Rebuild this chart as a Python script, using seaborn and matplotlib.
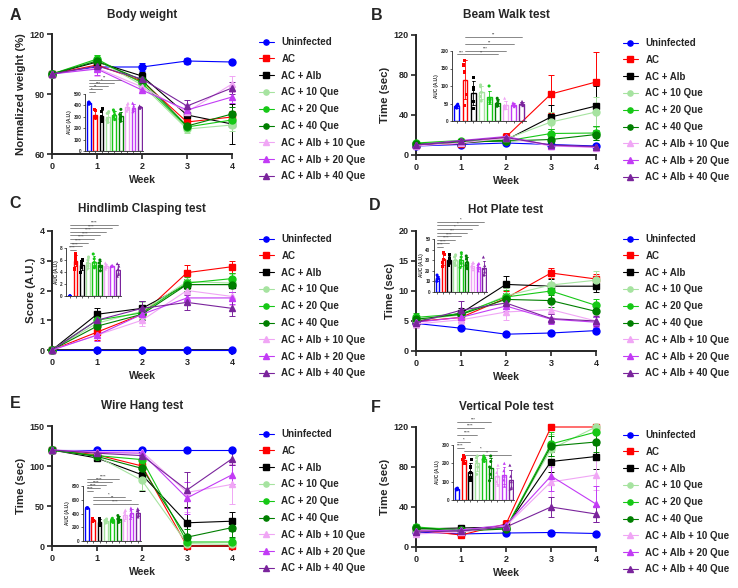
import numpy as np
import pandas as pd
import matplotlib
matplotlib.use('Agg')
import matplotlib.pyplot as plt
import seaborn as sns

groups = ['Uninfected', 'AC', 'AC + Alb', 'AC + 10 Que', 'AC + 20 Que', 'AC + 40 Que',
          'AC + Alb + 10 Que', 'AC + Alb + 20 Que', 'AC + Alb + 40 Que']
colors = ['#0000FF', '#FF0000', '#000000', '#A6E3A0', '#16C816', '#007F00',
          '#F0A6F5', '#C23BF5', '#7A249C']
markers = ['o', 's', 's', 'o', 'o', 'o', '^', '^', '^']
weeks = [0, 1, 2, 3, 4]

# ---- A: body weight (%)
bw_mean = [[100, 103.5, 103.5, 106.5, 106], [100, 104.5, 96.5, 76, 78.5],
           [100, 106, 99, 79.5, 75], [100, 107, 94.5, 72.5, 74.5],
           [100, 107.5, 95.5, 73.5, 77], [100, 106.5, 97, 74, 80],
           [100, 103, 93.5, 81, 95], [100, 102.5, 92, 82, 88.5],
           [100, 104, 97.5, 84, 93]]
bw_sem = [[0.5, 1.5, 2, 1.5, 1.2], [0.5, 2, 2, 2.5, 3], [0.5, 2, 2, 3, 10],
          [0.5, 2.5, 2, 2, 3], [0.5, 2, 2, 2, 3], [0.5, 2, 2, 2, 3.5],
          [0.5, 4, 2, 3, 4], [0.5, 3, 1.5, 2.5, 3], [0.5, 2, 2, 3, 3]]
bw_auc = [[430, 415, 425, 410, 420], [365, 355, 300, 290, 290], [370, 345, 300, 280, 255],
          [345, 330, 280, 270, 250], [360, 345, 320, 300, 275], [365, 320, 300, 280, 260],
          [420, 405, 380, 370, 350], [420, 395, 375, 365, 345], [395, 390, 385, 380, 375]]
bw_sig = [(0, 5, '**', 623), (0, 4, '*', 597), (0, 3, '***', 570), (0, 2, '**', 544), (0, 1, '*', 518)]

# ---- B: beam walk (sec)
bm_mean = [[9, 10.5, 12, 10.5, 9], [10, 11.5, 18, 61, 73], [10, 12, 15, 38, 49],
           [11, 13, 16, 33, 43], [12, 14.5, 14, 21.5, 22], [11, 13, 14, 15.5, 20.5],
           [9, 12, 17, 9, 7.5], [10, 14.5, 18.5, 9.5, 8], [10, 14, 17.5, 10, 8.5]]
bm_sem = [[1, 1, 1, 1, 1], [2, 2, 4, 19, 30], [2, 2, 2, 12, 20], [2, 2, 2, 10, 15],
          [2, 2, 2, 5, 7], [2, 2, 2, 3, 5], [1, 2, 3, 2, 2], [1, 2, 2, 2, 2], [1, 2, 2, 2, 2]]
bm_auc = [[48, 45, 42, 38, 37], [172, 160, 140, 75, 43], [125, 95, 90, 55, 35],
          [103, 98, 82, 70, 57], [100, 65, 62, 60, 53], [65, 58, 50, 45, 42],
          [65, 45, 42, 38, 35], [52, 50, 47, 45, 41], [56, 52, 50, 48, 44]]
bm_sig = [(1, 8, '**', 241), (1, 7, '**', 219), (1, 6, '***', 200), (0, 1, '***', 191), (1, 5, '**', 191)]

# ---- C: hindlimb clasping (score)
hc_mean = [[0, 0, 0, 0, 0], [0, 0.6, 1.2, 2.6, 2.8], [0, 1.2, 1.4, 2.2, 2.2],
           [0, 0.9, 1.3, 2.3, 2.25], [0, 1.0, 1.25, 2.25, 2.4], [0, 0.8, 1.2, 2.2, 2.2],
           [0, 0.5, 1.0, 2.0, 1.8], [0, 0.5, 1.2, 1.75, 1.75], [0, 1.0, 1.4, 1.6, 1.4]]
hc_sem = [[0, 0, 0, 0, 0], [0, 0.25, 0.2, 0.25, 0.2], [0, 0.2, 0.25, 0.2, 0.25],
          [0, 0.2, 0.3, 0.25, 0.3], [0, 0.2, 0.2, 0.2, 0.2], [0, 0.2, 0.2, 0.2, 0.25],
          [0, 0.2, 0.2, 0.3, 0.3], [0, 0.2, 0.2, 0.2, 0.2], [0, 0.2, 0.25, 0.25, 0.25]]
hc_auc = [[0, 0, 0, 0, 0], [7.0, 6.5, 6.0, 5.5, 4.5], [6.0, 5.8, 5.5, 4.8, 3.9],
          [6.5, 6.0, 5.5, 5.0, 4.5], [7.0, 6.2, 5.6, 5.0, 4.7], [6.0, 5.5, 5.0, 4.8, 4.2],
          [5.5, 5.2, 5.0, 4.8, 4.5], [5.1, 5.0, 5.0, 5.0, 4.9], [5.4, 5.0, 4.5, 3.8, 3.3]]
hc_sig = [(0, 1, '****', 7.7), (0, 2, '****', 8.3), (0, 3, '****', 8.9), (0, 4, '****', 9.5),
          (0, 5, '****', 10.1), (0, 6, '****', 10.7), (0, 7, '****', 11.3), (0, 8, '****', 11.9)]

# ---- D: hot plate (sec)
hp_mean = [[4.6, 3.8, 2.8, 3.0, 3.4], [4.9, 5.6, 8.8, 13.0, 12.0], [5.0, 6.3, 11.1, 10.8, 10.8],
           [5.2, 6.0, 9.2, 11.0, 11.8], [5.6, 6.2, 9.0, 10.0, 7.6], [5.3, 6.1, 8.6, 8.4, 6.6],
           [4.5, 5.2, 6.5, 6.9, 5.0], [4.8, 5.6, 7.5, 5.3, 4.8], [4.7, 6.8, 8.0, 5.4, 5.0]]
hp_sem = [[0.4, 0.3, 0.3, 0.3, 0.4], [0.6, 0.7, 1.2, 0.9, 0.8], [0.6, 0.8, 1.4, 1.2, 1.0],
          [0.7, 0.8, 1.3, 1.5, 1.5], [0.8, 0.7, 1.2, 1.2, 1.0], [0.7, 0.7, 1.0, 1.0, 1.0],
          [0.6, 0.7, 1.3, 1.2, 1.0], [0.6, 0.8, 0.9, 0.8, 0.8], [0.6, 1.6, 1.0, 0.8, 0.8]]
hp_auc = [[16, 14, 13, 12, 10], [37, 35, 31, 28, 24], [35, 32, 30, 28, 25],
          [35, 33, 30, 27, 25], [37, 33, 30, 27, 23], [34, 31, 28, 25, 22],
          [28, 27, 25, 24, 21], [27, 26, 24, 23, 20], [33, 25, 22, 19, 16]]
hp_sig = [(0, 1, '****', 42.5), (0, 2, '****', 45.9), (0, 3, '****', 49.3), (0, 4, '****', 52.7),
          (0, 5, '***', 56.1), (0, 6, '*', 59.5), (0, 7, '*', 62.9), (0, 8, '*', 66.3)]

# ---- E: wire hang (sec)
wh_mean = [[120, 120, 120, 120, 120], [120, 114, 100, 0, 0], [120, 110, 89, 29, 31],
           [120, 112, 82, 3, 2], [120, 113, 108, 5, 5], [120, 112, 97, 11, 23],
           [120, 118, 118, 67, 77], [120, 117, 116, 60, 89], [120, 116, 113, 70, 109]]
wh_sem = [[0, 0, 0, 0, 0], [0, 3, 5, 0, 0], [0, 4, 20, 20, 12], [0, 5, 12, 3, 2],
          [0, 4, 6, 5, 5], [0, 4, 8, 10, 12], [0, 2, 3, 25, 25], [0, 2, 3, 20, 12], [0, 2, 4, 22, 8]]
wh_auc = [[480, 480, 480, 480, 480], [320, 310, 300, 290, 280], [330, 290, 270, 240, 220],
          [320, 300, 290, 280, 260], [330, 310, 300, 290, 270], [370, 340, 320, 300, 270],
          [450, 420, 380, 350, 300], [480, 450, 410, 380, 330], [470, 440, 410, 380, 350]]
wh_sig = [(0, 5, '****', 902), (0, 4, '****', 858), (0, 3, '****', 815), (0, 2, '****', 771),
          (0, 1, '****', 728), (1, 6, '*', 640), (1, 7, '**', 596), (1, 8, '****', 538)]

# ---- F: vertical pole (sec)
vp_mean = [[15, 13, 14, 14.5, 13.5], [17, 12, 23, 120, 120], [18, 19, 20, 85.5, 90.5],
           [16, 16, 19, 98, 120], [20, 17, 19, 103, 115], [19, 16, 18, 101, 105],
           [13, 15, 21, 65, 72], [16, 17, 22, 71, 43], [15, 16, 20, 40, 33]]
vp_sem = [[1.5, 1.5, 1.5, 1.5, 1.5], [3, 2, 4, 0, 0], [3, 2, 3, 10, 12], [3, 2, 3, 15, 0],
          [3, 2, 3, 12, 8], [3, 2, 3, 10, 10], [3, 2, 3, 15, 15], [3, 2, 3, 15, 18], [3, 2, 3, 10, 8]]
vp_auc = [[65, 62, 60, 58, 55], [240, 230, 220, 210, 200], [220, 180, 150, 120, 105],
          [240, 230, 210, 180, 140], [240, 230, 225, 220, 210], [240, 210, 180, 140, 105],
          [190, 150, 130, 100, 80], [200, 160, 130, 110, 75], [190, 130, 100, 70, 60]]
vp_sig = [(0, 5, '***', 425), (0, 4, '****', 393), (0, 3, '****', 355), (0, 2, '*', 316),
          (0, 1, '****', 284), (1, 6, '*', 270), (1, 8, '**', 245)]

panels = [
    dict(letter='A', title='Body weight', ylabel='Normalized weight (%)', mean=bw_mean, sem=bw_sem,
         auc=bw_auc, sig=bw_sig, ylim=(60, 120), yticks=[60, 90, 120], ilim=500, istep=100,
         pos=(52, 34, 180, 120), inset=(85, 94, 58, 57), lpos=(15, 15), tpos=15),
    dict(letter='B', title='Beam Walk test', ylabel='Time (sec)', mean=bm_mean, sem=bm_sem,
         auc=bm_auc, sig=bm_sig, ylim=(0, 120), yticks=[0, 40, 80, 120], ilim=200, istep=50,
         pos=(416, 35, 180, 120), inset=(452, 51, 74, 70), lpos=(377, 15), tpos=15),
    dict(letter='C', title='Hindlimb Clasping test', ylabel='Score (A.U.)', mean=hc_mean, sem=hc_sem,
         auc=hc_auc, sig=hc_sig, ylim=(0, 4), yticks=[0, 1, 2, 3, 4], ilim=8, istep=2,
         pos=(52, 231, 180, 119), inset=(66, 248, 55, 48), lpos=(15, 204), tpos=209),
    dict(letter='D', title='Hot Plate test', ylabel='Time (sec)', mean=hp_mean, sem=hp_sem,
         auc=hp_auc, sig=hp_sig, ylim=(0, 20), yticks=[0, 5, 10, 15, 20], ilim=50, istep=10,
         pos=(416, 231, 180, 120), inset=(434, 239, 53, 53), lpos=(375, 205), tpos=210),
    dict(letter='E', title='Wire Hang test', ylabel='Time (sec)', mean=wh_mean, sem=wh_sem,
         auc=wh_auc, sig=wh_sig, ylim=(0, 150), yticks=[0, 50, 100, 150], ilim=800, istep=200,
         pos=(52, 426, 180, 120), inset=(83, 486, 58, 55), lpos=(15, 403), tpos=406),
    dict(letter='F', title='Vertical Pole test', ylabel='Time (sec)', mean=vp_mean, sem=vp_sem,
         auc=vp_auc, sig=vp_sig, ylim=(0, 120), yticks=[0, 40, 80, 120], ilim=300, istep=100,
         pos=(416, 427, 180, 120), inset=(453, 445, 61, 55), lpos=(376, 407), tpos=407),
]

sns.set_style('ticks')
plt.rcParams['font.family'] = ['Liberation Sans', 'DejaVu Sans']
plt.rcParams['font.weight'] = 'bold'
plt.rcParams['axes.labelweight'] = 'bold'
plt.rcParams['axes.titleweight'] = 'bold'

W, H = 738, 588
fig = plt.figure(figsize=(W / 100, H / 100), dpi=100)
np.random.seed(3)


def box(l, t, w, h):
    return [l / W, 1 - (t + h) / H, w / W, h / H]


for p in panels:
    ax = fig.add_axes(box(*p['pos']))
    for k, g in enumerate(groups):
        eb = ax.errorbar(weeks, p['mean'][k], yerr=p['sem'][k], fmt='none', ecolor=colors[k],
                         elinewidth=0.7, capsize=2.2, capthick=0.7)
        for art in list(eb[1]) + list(eb[2]):
            art.set_clip_on(False)
        ax.plot(weeks, p['mean'][k], color=colors[k], lw=0.8, marker=markers[k], ms=5,
                label=g, clip_on=False, zorder=3)
    ax.set_xlim(0, 4)
    ax.set_ylim(*p['ylim'])
    ax.set_xticks(weeks)
    ax.set_yticks(p['yticks'])
    sns.despine(ax=ax)
    for s in ['left', 'bottom']:
        ax.spines[s].set_linewidth(1.4)
    ax.tick_params(labelsize=6.5, width=1.2, length=3.5, pad=2)
    ax.set_xlabel('Week', fontsize=7.5, labelpad=3)
    ax.set_ylabel(p['ylabel'], fontsize=8.2, labelpad=2)
    fig.text((p['pos'][0] + 90) / W, 1 - p['tpos'] / H, p['title'], fontsize=8.5,
             weight='bold', ha='center', va='center')
    fig.text(p['lpos'][0] / W, 1 - p['lpos'][1] / H, p['letter'], fontsize=11.5,
             weight='bold', ha='center', va='center')
    ax.legend(loc='upper left', bbox_to_anchor=(1.15, 0.975), frameon=False,
              prop={'size': 7, 'weight': 'bold'}, handlelength=1.5, handletextpad=0.8,
              labelspacing=0.7, borderaxespad=0, borderpad=0, markerscale=0.75)

    # inset AUC bar chart
    iax = fig.add_axes(box(*p['inset']))
    iax.patch.set_alpha(0)
    df = pd.DataFrame({'group': np.repeat(groups, 5), 'auc': np.concatenate(p['auc'])})
    sns.barplot(data=df, x='group', y='auc', hue='group', order=groups, hue_order=groups,
                palette=colors, fill=False, width=0.6, linewidth=1.0, errorbar='sd',
                capsize=0.4, err_kws={'linewidth': 0.6}, legend=False, ax=iax)
    for mk in ['o', 's', '^']:
        sub = df[df['group'].isin([g for g, m in zip(groups, markers) if m == mk])]
        sns.stripplot(data=sub, x='group', y='auc', hue='group', order=groups, hue_order=groups,
                      palette=colors, marker=mk, size=2.2, jitter=0.15, legend=False, ax=iax)
    iax.set_xlim(-0.6, 8.5)
    iax.set_ylim(0, p['ilim'])
    iax.set_yticks(np.arange(0, p['ilim'] + 1, p['istep']))
    iax.set_xticks(range(9))
    iax.set_xticklabels([])
    iax.set_xlabel('')
    iax.set_ylabel('AUC (A.U.)', fontsize=3.3, labelpad=1)
    sns.despine(ax=iax)
    for s in ['left', 'bottom']:
        iax.spines[s].set_linewidth(0.6)
    iax.tick_params(labelsize=3.3, width=0.5, length=1.5, pad=1)
    for i, j, lab, y in p['sig']:
        iax.plot([i, j], [y, y], color='0.35', lw=0.5, clip_on=False)
        iax.text((i + j) / 2, y, lab, fontsize=3, ha='center', va='bottom', color='0.35')

fig.savefig('out.png', dpi=100)
